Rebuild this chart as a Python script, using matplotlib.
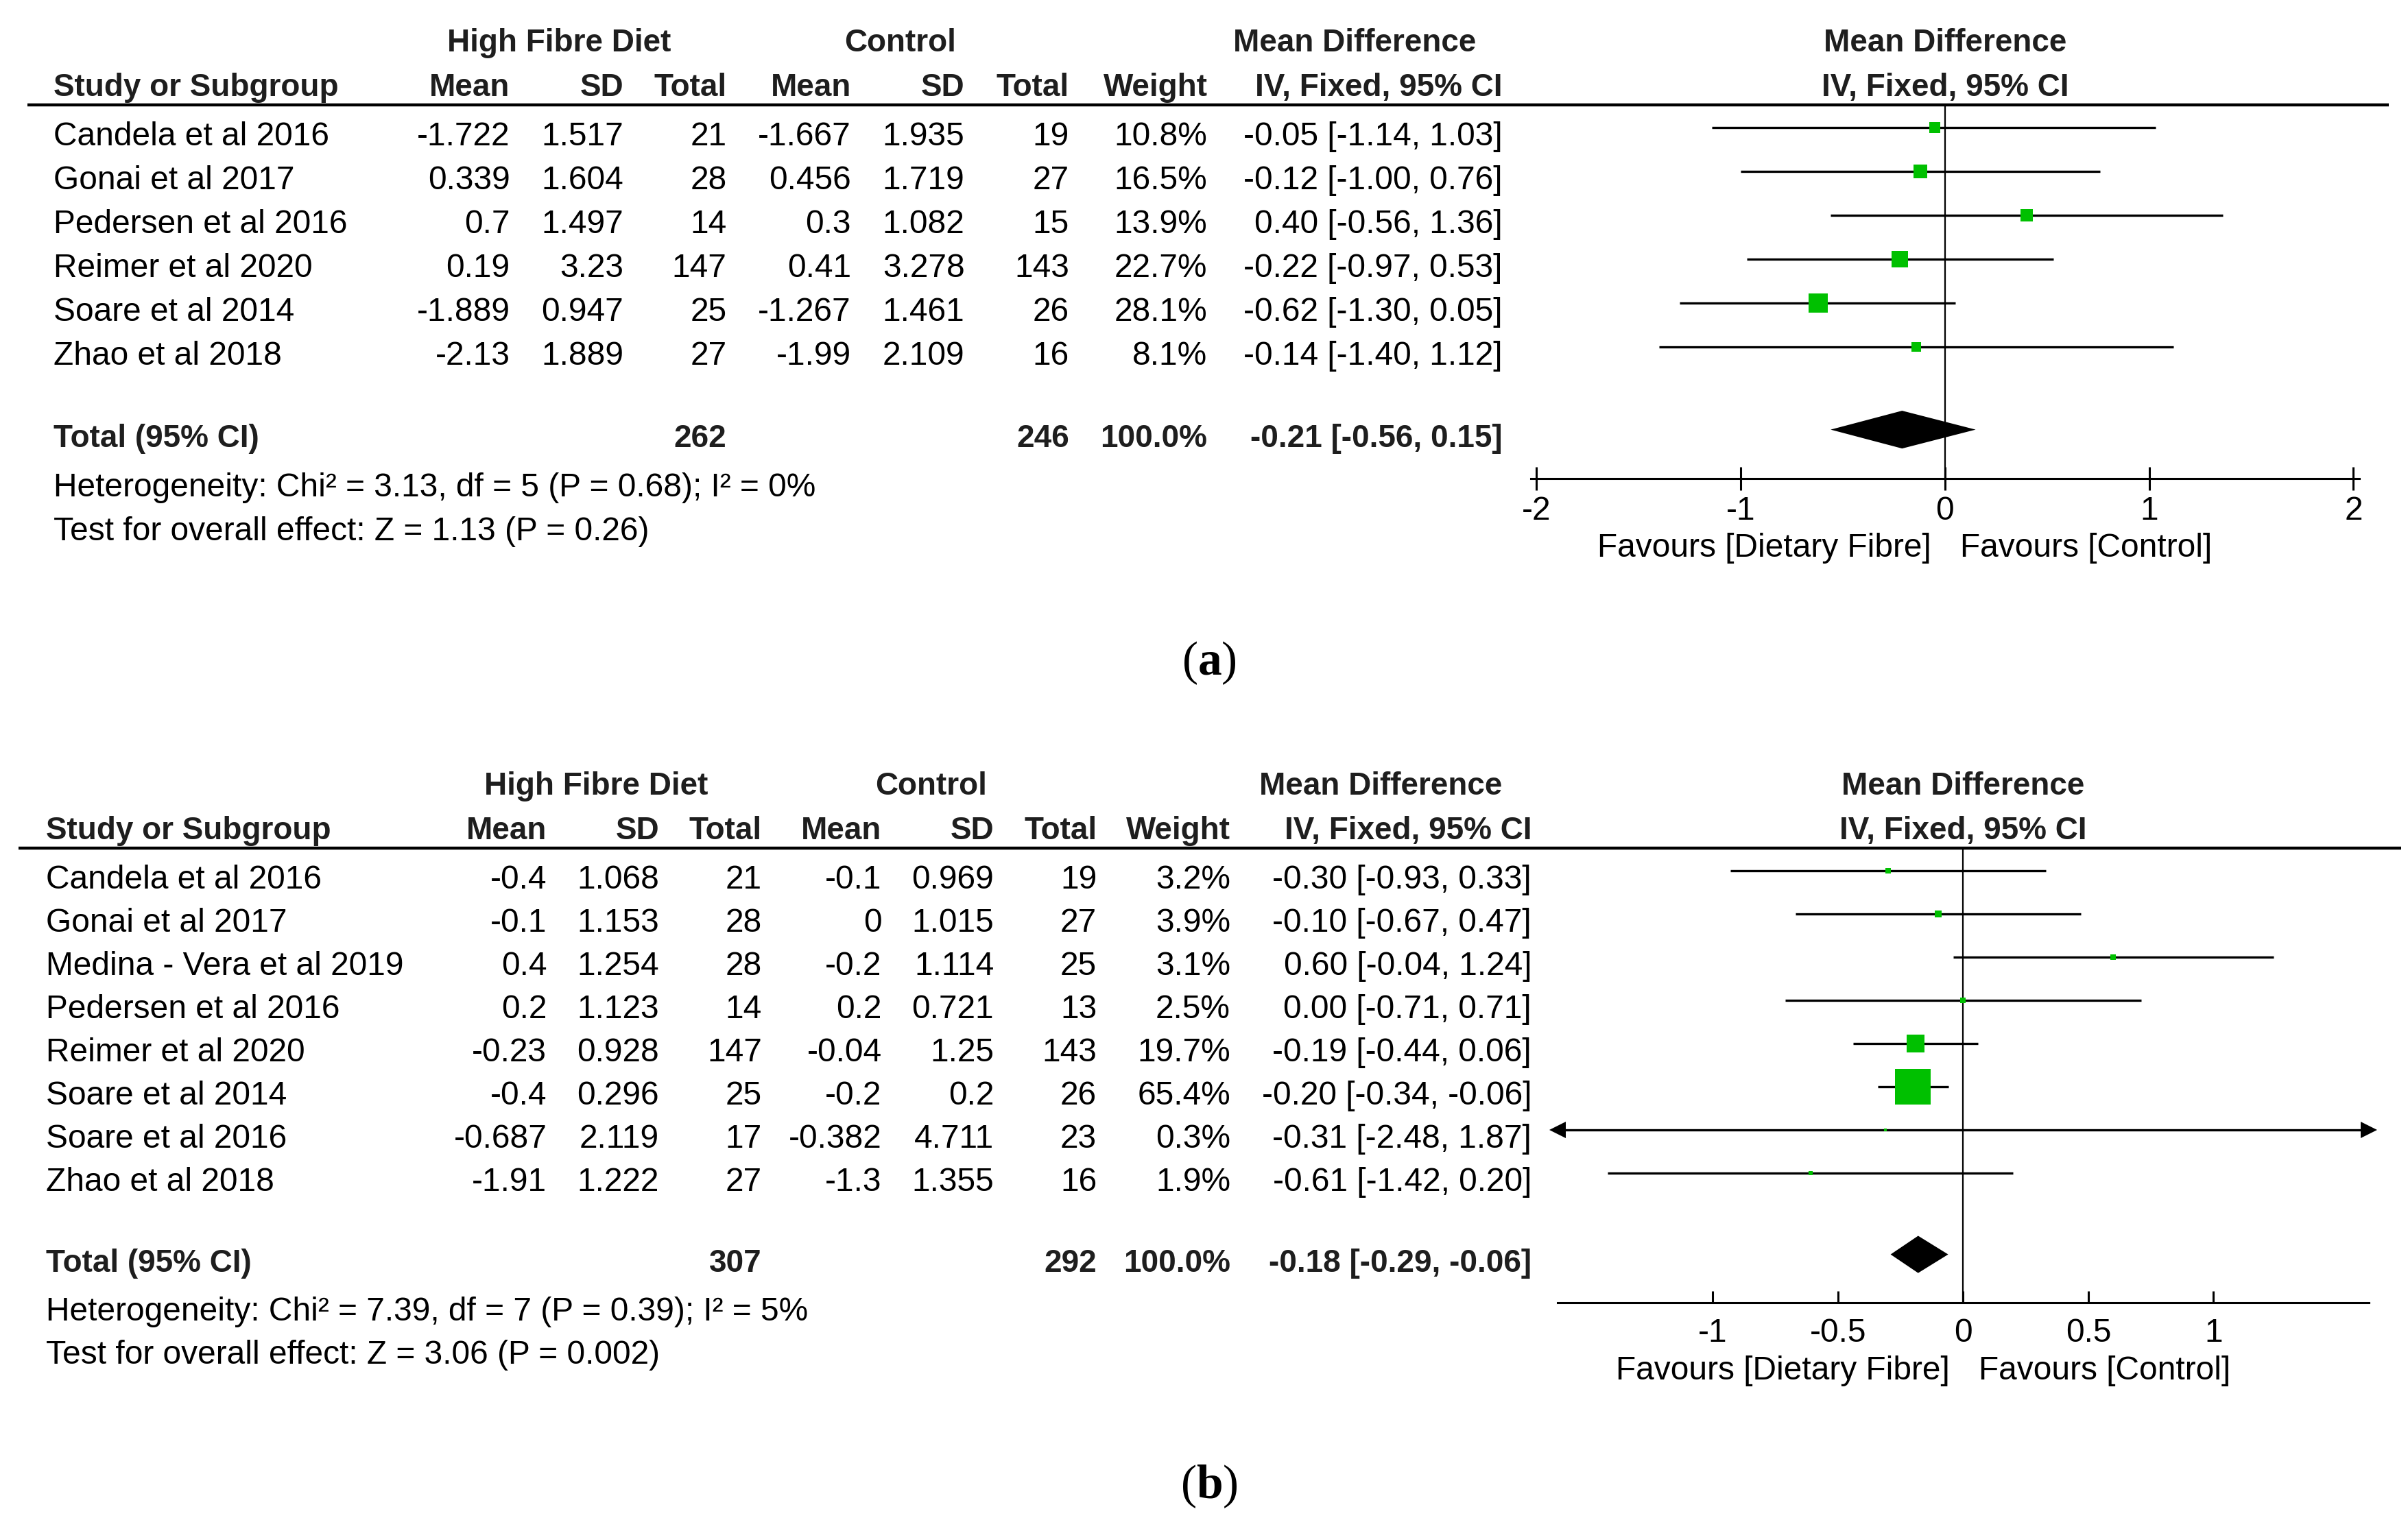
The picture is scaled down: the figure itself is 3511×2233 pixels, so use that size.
import matplotlib
matplotlib.use('Agg')
import matplotlib.pyplot as plt
from matplotlib import font_manager

# ---------------- panel (a) data ----------------
a_studies = ['Candela et al 2016', 'Gonai et al 2017', 'Pedersen et al 2016',
             'Reimer et al 2020', 'Soare et al 2014', 'Zhao et al 2018']
a_hf_mean = ['-1.722', '0.339', '0.7', '0.19', '-1.889', '-2.13']
a_hf_sd = ['1.517', '1.604', '1.497', '3.23', '0.947', '1.889']
a_hf_n = [21, 28, 14, 147, 25, 27]
a_ct_mean = ['-1.667', '0.456', '0.3', '0.41', '-1.267', '-1.99']
a_ct_sd = ['1.935', '1.719', '1.082', '3.278', '1.461', '2.109']
a_ct_n = [19, 27, 15, 143, 26, 16]
a_weight = [10.8, 16.5, 13.9, 22.7, 28.1, 8.1]
a_md = [-0.05, -0.12, 0.40, -0.22, -0.62, -0.14]
a_lo = [-1.14, -1.00, -0.56, -0.97, -1.30, -1.40]
a_hi = [1.03, 0.76, 1.36, 0.53, 0.05, 1.12]
a_total = [-0.21, -0.56, 0.15]
a_het = 'Heterogeneity: Chi² = 3.13, df = 5 (P = 0.68); I² = 0%'
a_test = 'Test for overall effect: Z = 1.13 (P = 0.26)'
a_ticks = [-2, -1, 0, 1, 2]

# ---------------- panel (b) data ----------------
b_studies = ['Candela et al 2016', 'Gonai et al 2017', 'Medina - Vera et al 2019',
             'Pedersen et al 2016', 'Reimer et al 2020', 'Soare et al 2014',
             'Soare et al 2016', 'Zhao et al 2018']
b_hf_mean = ['-0.4', '-0.1', '0.4', '0.2', '-0.23', '-0.4', '-0.687', '-1.91']
b_hf_sd = ['1.068', '1.153', '1.254', '1.123', '0.928', '0.296', '2.119', '1.222']
b_hf_n = [21, 28, 28, 14, 147, 25, 17, 27]
b_ct_mean = ['-0.1', '0', '-0.2', '0.2', '-0.04', '-0.2', '-0.382', '-1.3']
b_ct_sd = ['0.969', '1.015', '1.114', '0.721', '1.25', '0.2', '4.711', '1.355']
b_ct_n = [19, 27, 25, 13, 143, 26, 23, 16]
b_weight = [3.2, 3.9, 3.1, 2.5, 19.7, 65.4, 0.3, 1.9]
b_md = [-0.30, -0.10, 0.60, 0.00, -0.19, -0.20, -0.31, -0.61]
b_lo = [-0.93, -0.67, -0.04, -0.71, -0.44, -0.34, -2.48, -1.42]
b_hi = [0.33, 0.47, 1.24, 0.71, 0.06, -0.06, 1.87, 0.20]
b_total = [-0.18, -0.29, -0.06]
b_het = 'Heterogeneity: Chi² = 7.39, df = 7 (P = 0.39); I² = 5%'
b_test = 'Test for overall effect: Z = 3.06 (P = 0.002)'
b_ticks = [-1, -0.5, 0, 0.5, 1]


def pick(names):
    for n in names:
        try:
            font_manager.findfont(n, fallback_to_default=False)
            return n
        except Exception:
            pass
    return 'DejaVu Sans'


SANS = pick(['Liberation Sans', 'Arimo', 'DejaVu Sans'])
SERIF = pick(['Liberation Serif', 'DejaVu Serif'])
plt.rcParams['font.family'] = [SANS, 'DejaVu Sans']
plt.rcParams['axes.unicode_minus'] = False
plt.rcParams['mathtext.fontset'] = 'custom'
plt.rcParams['mathtext.rm'] = SERIF
plt.rcParams['mathtext.bf'] = SERIF + ':bold'

W, H = 1568, 997          # layout units (reference at display scale)
FS = 34.5                 # regular text size
FSB = 33                  # bold header size
TY = 2                    # text baseline nudge (layout units)
HDR = '#1e1e1e'
GREEN = '#00c000'

fig = plt.figure(figsize=(35.12, 22.33), dpi=100)
bg = fig.add_axes([0, 0, 1, 1])
bg.set_xlim(0, W)
bg.set_ylim(H, 0)
bg.axis('off')


def draw_panel(L, studies, hf_mean, hf_sd, hf_n, ct_mean, ct_sd, ct_n,
               weight, md, lo, hi, total, het, test, ticks):
    n = len(studies)
    r0, dy, c = L['row0'], L['dy'], L['cols']

    def ry(i):
        return r0 + dy * i + TY

    h1, h2 = r0 - 61 + TY, r0 - 32 + TY
    # headers
    bg.text(L['grp'][0], h1, 'High Fibre Diet', ha='center', va='center',
            fontsize=FSB, fontweight='bold', color=HDR)
    bg.text(L['grp'][1], h1, 'Control', ha='center', va='center',
            fontsize=FSB, fontweight='bold', color=HDR)
    bg.text(L['grp'][2], h1, 'Mean Difference', ha='center', va='center',
            fontsize=FSB, fontweight='bold', color=HDR)
    bg.text(c[0], h2, 'Study or Subgroup', ha='left', va='center',
            fontsize=FSB, fontweight='bold', color=HDR)
    heads = ['Mean', 'SD', 'Total', 'Mean', 'SD', 'Total', 'Weight',
             'IV, Fixed, 95% CI']
    for x, h in zip(c[1:], heads):
        bg.text(x, h2, h, ha='right', va='center', fontsize=FSB,
                fontweight='bold', color=HDR)
    bg.plot(L['rule'], [r0 - 18.5, r0 - 18.5], color='black', lw=3.2,
            solid_capstyle='butt')

    # study rows
    for i in range(n):
        bg.text(c[0], ry(i), studies[i], ha='left', va='center', fontsize=FS)
        cells = [hf_mean[i], hf_sd[i], str(hf_n[i]), ct_mean[i], ct_sd[i],
                 str(ct_n[i]), f'{weight[i]:.1f}%',
                 f'{md[i]:.2f} [{lo[i]:.2f}, {hi[i]:.2f}]']
        for x, s in zip(c[1:], cells):
            bg.text(x, ry(i), s, ha='right', va='center', fontsize=FS)

    # total row
    tr = n + 0.88
    bg.text(c[0], ry(tr), 'Total (95% CI)', ha='left', va='center',
            fontsize=FSB, fontweight='bold', color=HDR)
    tot_cells = {3: str(sum(hf_n)), 6: str(sum(ct_n)), 7: '100.0%',
                 8: f'{total[0]:.2f} [{total[1]:.2f}, {total[2]:.2f}]'}
    for k, s in tot_cells.items():
        bg.text(c[k], ry(tr), s, ha='right', va='center', fontsize=FSB,
                fontweight='bold', color=HDR)
    bg.text(c[0], ry(n + 2.0), het, ha='left', va='center', fontsize=FS)
    bg.text(c[0], ry(n + 3.0), test, ha='left', va='center', fontsize=FS)

    # forest plot axes
    x0, x1 = L['plot_x']
    xmin, xmax = L['xlim']
    ytop = r0 - 18.5
    ybot = r0 + dy * (n + 2) - 4
    fax = fig.add_axes([x0 / W, 1 - ybot / H, (x1 - x0) / W, (ybot - ytop) / H])
    fax.set_xlim(xmin, xmax)
    fax.set_ylim(n + 2, (ytop - (r0 - 4)) / dy)
    fax.patch.set_alpha(0)
    for sp in ['top', 'left', 'right']:
        fax.spines[sp].set_visible(False)
    fax.spines['bottom'].set_linewidth(2.2)
    fax.set_yticks([])
    fax.set_xticks(ticks, labels=[f'{t:g}' for t in ticks])
    fax.tick_params(axis='x', direction=L['tdir'], length=L['tlen'], width=2.2,
                    labelsize=FS, pad=L['tpad'])
    fax.axvline(0, color='black', lw=1.6, zorder=1)

    wmax = max(weight)
    for i in range(n):
        l, h = max(lo[i], xmin), min(hi[i], xmax)
        fax.plot([l, h], [i, i], color='black', lw=2.4, solid_capstyle='butt',
                 zorder=2)
        if lo[i] < xmin:
            fax.plot(xmin, i, marker='<', ms=17, color='black', mew=0,
                     clip_on=False, zorder=3)
        if hi[i] > xmax:
            fax.plot(xmax, i, marker='>', ms=17, color='black', mew=0,
                     clip_on=False, zorder=3)
        side = max(L['smax'] * (weight[i] / wmax) ** 0.6, 4.5)
        fax.plot(md[i], i, marker='s', ms=side * 0.72, color=GREEN, mew=0,
                 zorder=4)

    dh = 0.43
    fax.fill([total[1], total[0], total[2], total[0]],
             [tr, tr - dh, tr, tr + dh], color='black', lw=0, zorder=4)

    zx = x0 + (0 - xmin) / (xmax - xmin) * (x1 - x0)
    bg.text(zx - 9, ry(n + 3.37), 'Favours [Dietary Fibre]', ha='right',
            va='center', fontsize=FS)
    bg.text(zx + 10, ry(n + 3.37), 'Favours [Control]', ha='left',
            va='center', fontsize=FS)
    bg.text(zx, h1, 'Mean Difference', ha='center', va='center',
            fontsize=FSB, fontweight='bold', color=HDR)
    bg.text(zx, h2, 'IV, Fixed, 95% CI', ha='center', va='center',
            fontsize=FSB, fontweight='bold', color=HDR)

    bg.text(787, L['label_y'], r'($\mathbf{' + L['label'] + '}$)',
            ha='center', va='center', fontsize=50, family=SERIF)


layout_a = dict(row0=87, dy=28.6,
                cols=[35, 332, 406, 473, 554, 628, 696, 786, 978],
                grp=[364, 586, 882], rule=[18, 1555],
                plot_x=[996.3, 1536], xlim=[-2.03, 2.03],
                tdir='inout', tlen=24, tpad=6, smax=28,
                label_y=432, label='a')
layout_b = dict(row0=571, dy=28.14,
                cols=[30, 356, 429, 496, 574, 647, 714, 801, 997],
                grp=[388, 606, 899], rule=[12, 1563],
                plot_x=[1014, 1542], xlim=[-1.62, 1.62],
                tdir='in', tlen=12, tpad=16, smax=52,
                label_y=968, label='b')

draw_panel(layout_a, a_studies, a_hf_mean, a_hf_sd, a_hf_n, a_ct_mean,
           a_ct_sd, a_ct_n, a_weight, a_md, a_lo, a_hi, a_total, a_het,
           a_test, a_ticks)
draw_panel(layout_b, b_studies, b_hf_mean, b_hf_sd, b_hf_n, b_ct_mean,
           b_ct_sd, b_ct_n, b_weight, b_md, b_lo, b_hi, b_total, b_het,
           b_test, b_ticks)

fig.savefig('out.png', dpi=100, facecolor='white')
